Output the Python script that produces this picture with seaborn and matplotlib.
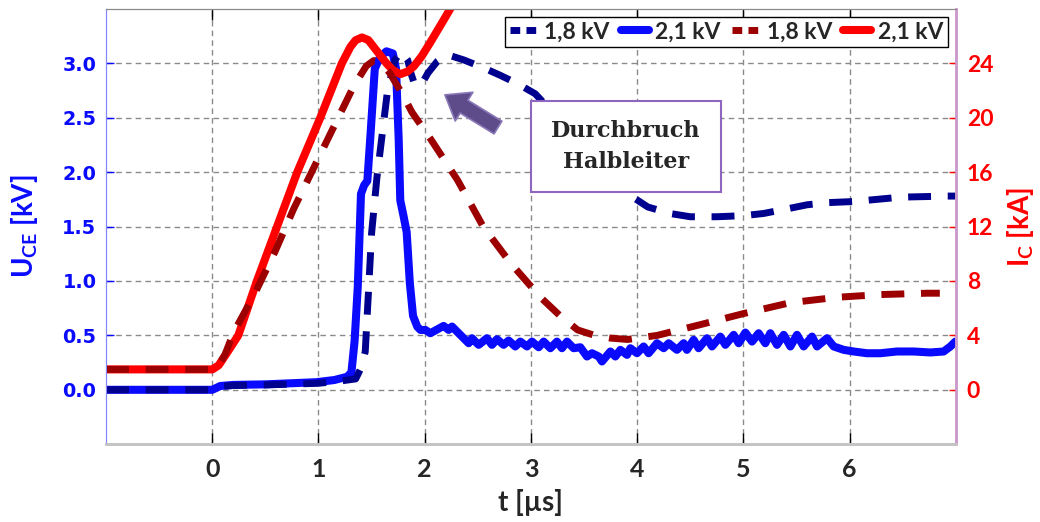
import numpy as np
import pandas as pd
import matplotlib
matplotlib.use("Agg")
import matplotlib.pyplot as plt
from matplotlib.patches import Rectangle
from matplotlib.lines import Line2D
import seaborn as sns

# time axis [us] and collector-emitter voltage [kV], 2,1 kV case
t_u21 = [-1.0, 0.0, 0.075, 0.2, 0.5, 0.98, 1.15, 1.27, 1.31, 1.34, 1.37, 1.40, 1.43, 1.46,
         1.49, 1.53, 1.58, 1.64, 1.70, 1.73, 1.755, 1.77, 1.80, 1.83, 1.86, 1.89, 1.93, 1.96,
         2.006, 2.053, 2.178, 2.225, 2.257, 2.335, 2.414, 2.445, 2.508, 2.586, 2.633, 2.680,
         2.743, 2.790, 2.853, 2.900, 2.963, 3.010, 3.073, 3.120, 3.183, 3.245, 3.292, 3.340,
         3.402, 3.465, 3.528, 3.575, 3.638, 3.669, 3.748, 3.795, 3.842, 3.905, 3.936, 3.999,
         4.061, 4.108, 4.187, 4.250, 4.297, 4.375, 4.438, 4.469, 4.532, 4.579, 4.658, 4.705,
         4.783, 4.831, 4.909, 4.956, 5.019, 5.082, 5.144, 5.207, 5.254, 5.317, 5.380, 5.443,
         5.505, 5.568, 5.647, 5.694, 5.788, 5.851, 5.945, 6.039, 6.164, 6.290, 6.447, 6.604,
         6.761, 6.886, 6.949, 6.996]
u_21 = [0.0, 0.0, 0.035, 0.045, 0.05, 0.07, 0.09, 0.12, 0.16, 0.45, 0.95, 1.80, 1.88, 1.92,
        2.35, 2.95, 3.06, 3.11, 3.09, 2.95, 2.30, 1.74, 1.60, 1.45, 0.98, 0.68, 0.58, 0.55,
        0.550, 0.520, 0.587, 0.550, 0.581, 0.505, 0.428, 0.474, 0.413, 0.474, 0.413, 0.465,
        0.413, 0.453, 0.398, 0.443, 0.398, 0.443, 0.391, 0.443, 0.382, 0.443, 0.382, 0.443,
        0.382, 0.391, 0.306, 0.336, 0.306, 0.260, 0.352, 0.306, 0.367, 0.321, 0.382, 0.336,
        0.398, 0.336, 0.428, 0.382, 0.428, 0.367, 0.428, 0.367, 0.459, 0.382, 0.474, 0.398,
        0.489, 0.413, 0.505, 0.428, 0.526, 0.443, 0.520, 0.428, 0.520, 0.413, 0.505, 0.398,
        0.505, 0.398, 0.489, 0.398, 0.474, 0.398, 0.367, 0.352, 0.336, 0.336, 0.352, 0.352,
        0.343, 0.352, 0.398, 0.443]

# voltage, 1,8 kV case
t_u18 = [-1.0, 0.0, 0.075, 0.2, 0.5, 1.0, 1.2, 1.35, 1.40, 1.44, 1.47, 1.50, 1.55, 1.60,
         1.65, 1.72, 1.78, 1.84, 1.87, 1.90, 1.96, 2.03, 2.12, 2.21, 2.37, 2.55, 2.71, 2.88,
         3.04, 3.3, 3.6, 3.8, 3.96, 4.1, 4.31, 4.5, 4.75, 5.0, 5.19, 5.4, 5.6, 5.8, 6.04,
         6.48, 6.92, 7.0]
u_18 = [0.0, 0.0, 0.03, 0.04, 0.045, 0.06, 0.08, 0.10, 0.20, 0.35, 0.89, 1.44, 1.95, 2.35,
        2.75, 3.03, 3.11, 3.03, 2.91, 2.82, 2.79, 2.91, 3.02, 3.08, 3.03, 2.96, 2.89, 2.81,
        2.72, 2.45, 2.12, 1.90, 1.77, 1.68, 1.62, 1.59, 1.59, 1.60, 1.62, 1.66, 1.70, 1.72,
        1.73, 1.77, 1.78, 1.78]

# collector current [kA], 2,1 kV case
t_i21 = [-1.0, 0.0, 0.06, 0.12, 0.245, 0.42, 0.61, 0.80, 1.017, 1.22, 1.30, 1.35, 1.41,
         1.47, 1.52, 1.58, 1.64, 1.70, 1.77, 1.84, 1.90, 1.97, 2.05, 2.18, 2.30, 2.45]
i_21 = [1.5, 1.5, 1.8, 2.5, 4.0, 8.0, 12.0, 16.0, 20.0, 24.0, 25.2, 25.7, 25.9,
        25.7, 25.2, 24.6, 24.0, 23.5, 23.2, 23.4, 23.8, 24.5, 25.5, 27.2, 28.8, 30.8]

# current, 1,8 kV case
t_i18 = [-1.0, 0.0, 0.06, 0.12, 0.20, 0.405, 0.593, 0.766, 0.954, 1.142, 1.33, 1.45, 1.52,
         1.58, 1.67, 1.80, 1.88, 2.05, 2.31, 2.55, 2.81, 3.09, 3.28, 3.44, 3.6, 3.75, 3.91,
         4.19, 4.6, 5.0, 5.44, 5.88, 6.29, 6.73, 6.85]
i_18 = [1.5, 1.5, 1.8, 2.6, 4.2, 7.15, 10.2, 13.3, 16.3, 19.3, 22.3, 23.8, 24.2,
        24.1, 23.3, 21.6, 20.4, 18.5, 15.4, 12.0, 9.3, 6.8, 5.4, 4.4, 4.0, 3.8, 3.7,
        4.0, 4.8, 5.6, 6.4, 6.8, 7.0, 7.1, 7.1]

legend_labels = ["1,8 kV", "2,1 kV", "1,8 kV", "2,1 kV"]
x_ticks = [0, 1, 2, 3, 4, 5, 6]
u_ticks = [0.0, 0.5, 1.0, 1.5, 2.0, 2.5, 3.0]
i_ticks = [0, 4, 8, 12, 16, 20, 24]

sns.set_style("white")
plt.rcParams["font.family"] = ["Lato", "DejaVu Sans"]
plt.rcParams["font.weight"] = "bold"
plt.rcParams["mathtext.fontset"] = "custom"
plt.rcParams["mathtext.rm"] = "Lato:bold"
plt.rcParams["mathtext.bf"] = "Lato:bold"
plt.rcParams["mathtext.it"] = "Lato:bold"

BLUE = "#0a0aff"
NAVY = "#00008f"
RED = "#ff0000"
DARKRED = "#9c0000"
dash = (0, (3.3, 2.4))

fig = plt.figure(figsize=(10.4, 5.22), dpi=100)
ax = fig.add_axes([0.102, 0.149, 0.817, 0.834])
ax2 = ax.twinx()

sns.lineplot(x=t_u21, y=u_21, ax=ax, color=BLUE, lw=5.8, sort=False, estimator=None,
             solid_joinstyle="round", solid_capstyle="round")
sns.lineplot(x=t_u18, y=u_18, ax=ax, color=NAVY, lw=5, sort=False, estimator=None,
             linestyle=dash)
sns.lineplot(x=t_i21, y=i_21, ax=ax2, color=RED, lw=5.8, sort=False, estimator=None,
             solid_joinstyle="round", solid_capstyle="round")
sns.lineplot(x=t_i18, y=i_18, ax=ax2, color=DARKRED, lw=5, sort=False, estimator=None,
             linestyle=dash)

ax.set_xlim(-1, 7)
ax.set_ylim(-0.5, 3.5)
ax2.set_ylim(-4, 28)

ax.set_xticks(x_ticks)
ax.set_xticklabels([str(v) for v in x_ticks], fontsize=18, fontweight="bold")
ax.set_yticks(u_ticks)
ax.set_yticklabels([f"{v:.1f}" for v in u_ticks], fontsize=13.8, fontweight="bold",
                   color=BLUE, family="DejaVu Sans")
ax2.set_yticks(i_ticks)
ax2.set_yticklabels([str(v) for v in i_ticks], fontsize=16.5, fontweight="bold", color=RED)

ax.grid(True, color="#8a8a8a", linestyle=(0, (4, 3)), lw=1)
ax2.grid(False)

ax.tick_params(axis="x", direction="in", length=8, width=1, color="black", top=True,
               bottom=True, pad=10)
ax.tick_params(axis="y", direction="in", length=6, width=1, color=BLUE, pad=7)
ax2.tick_params(axis="y", direction="in", length=5, width=1, color=RED, pad=8)

for a in (ax, ax2):
    a.spines["top"].set_color("#8a8a8a")
    a.spines["bottom"].set_color("#c4c4c4")
    a.spines["bottom"].set_linewidth(2)
    a.spines["left"].set_color("#8585ff")
    a.spines["right"].set_color("#cc99cc")
    a.spines["right"].set_linewidth(1.8)

ax.set_xlabel("t [µs]", fontsize=20, fontweight="bold", labelpad=6)
ax.set_ylabel(r"U$_{\mathregular{CE}}$ [kV]", fontsize=20, fontweight="bold", color=BLUE,
              labelpad=16)
ax2.set_ylabel(r"I$_{\mathregular{C}}$ [kA]", fontsize=20, fontweight="bold", color=RED,
               labelpad=8, rotation=90)

for a in (ax, ax2):
    if a.get_legend() is not None:
        a.get_legend().remove()
short_dash = (0, (1.4, 0.9))
handles = [Line2D([], [], color=NAVY, lw=5, ls=short_dash),
           Line2D([], [], color=BLUE, lw=5.8),
           Line2D([], [], color=DARKRED, lw=5, ls=short_dash),
           Line2D([], [], color=RED, lw=5.8)]
leg = ax2.legend(handles, legend_labels, ncol=4, loc="upper right",
                 bbox_to_anchor=(0.9906, 0.9816), borderaxespad=0,
                 prop={"weight": "bold", "size": 16.5}, frameon=True, fancybox=False,
                 framealpha=1, edgecolor="black", handlelength=1.2, handletextpad=0.3,
                 columnspacing=0.5, borderpad=0.2)
leg.get_frame().set_linewidth(1)
leg.set_zorder(20)

# annotation: arrow and text box
ax2.annotate("", xy=(2.19, 2.71), xytext=(2.69, 2.41), xycoords=ax.transData,
             textcoords=ax.transData,
             arrowprops=dict(arrowstyle="simple,head_width=0.9,head_length=0.6,tail_width=0.4",
                             fc="#5d4b8a", ec="#8a78b8", lw=1.2, mutation_scale=27,
                             shrinkA=0, shrinkB=0),
             zorder=15)
ax2.add_patch(Rectangle((3.0, 1.82), 1.79, 0.83, transform=ax.transData, facecolor="white",
                        edgecolor="#8e66c0", lw=1.5, zorder=15))
ax2.text(3.895, 2.235, "Durchbruch\nHalbleiter", transform=ax.transData, ha="center",
         va="center", fontsize=16, fontweight="bold", family="DejaVu Serif",
         linespacing=1.55, zorder=16)

fig.savefig("out.png", dpi=100)
